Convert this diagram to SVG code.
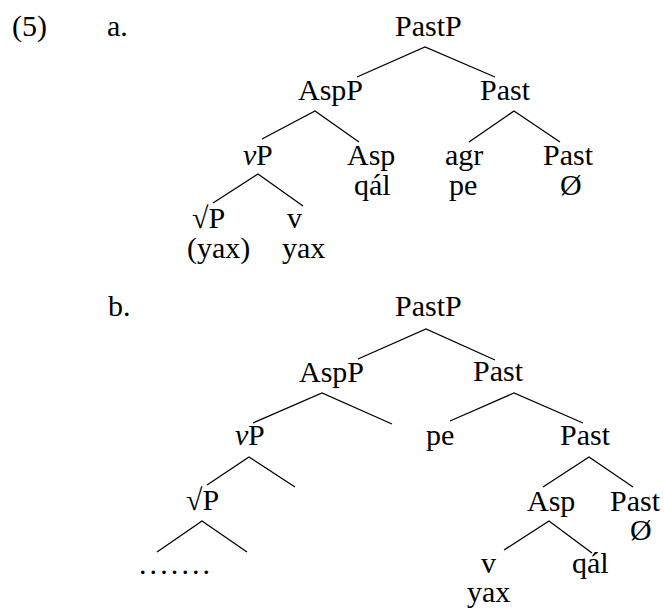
<svg xmlns="http://www.w3.org/2000/svg" width="664" height="615" viewBox="0 0 664 615" font-family="Liberation Serif, Times New Roman, serif" font-size="30">
<style>
text{font-family:'Liberation Serif','Times New Roman',serif;font-size:30px;fill:#000}
.i{font-style:italic}
.dots{letter-spacing:3.1px}
.e{stroke:#000;stroke-width:1.3;fill:none}
</style>
<rect width="664" height="615" fill="#fff"/>
<g id="labels">
<text x="12" y="36">(5)</text>
<text x="107" y="36">a.</text>
<text x="108" y="316">b.</text>
</g>
<g id="edges">
<polyline class="e" points="357,77 425,47 495,77"/>
<polyline class="e" points="262,139 315,111 359,142"/>
<polyline class="e" points="469,142 514,111 560,142"/>
<polyline class="e" points="213,203 258,174 303,206"/>
<polyline class="e" points="358,359 426,329 495,360"/>
<polyline class="e" points="253,423 322,393 392,424"/>
<polyline class="e" points="450,421 514,393 583,423"/>
<polyline class="e" points="207,485 249,457 295,487"/>
<polyline class="e" points="543,487 589,457 633,487"/>
<polyline class="e" points="157,552 202,521 247,552"/>
<polyline class="e" points="504,550 549,521 592,553"/>
</g>
<g id="a-PastP"><text x="395" y="36">PastP</text></g>
<g id="a-AspP"><text x="298" y="100">AspP</text></g>
<g id="a-Past"><text x="480" y="100">Past</text></g>
<g id="a-vP"><text class="i" x="243" y="165">v</text><text x="256" y="165">P</text></g>
<g id="a-Asp"><text x="347" y="165">Asp</text><text x="354" y="195">qál</text></g>
<g id="a-agr"><text x="445" y="165">agr</text><text x="449" y="195">pe</text></g>
<g id="a-Past2"><text x="543" y="165">Past</text><text x="560" y="195">Ø</text></g>
<g id="a-rootP"><text x="192" y="228">√P</text><text x="187" y="258">(yax)</text></g>
<g id="a-v"><text x="287" y="228">v</text><text x="282" y="258">yax</text></g>
<g id="b-PastP"><text x="395" y="316">PastP</text></g>
<g id="b-AspP"><text x="299" y="382">AspP</text></g>
<g id="b-Past"><text x="473" y="381">Past</text></g>
<g id="b-vP"><text class="i" x="235" y="445">v</text><text x="248" y="445">P</text></g>
<g id="b-pe"><text x="426" y="445">pe</text></g>
<g id="b-Past2"><text x="560" y="445">Past</text></g>
<g id="b-rootP"><text x="186" y="510">√P</text></g>
<g id="b-dots"><text class="dots" x="139" y="574">.......</text></g>
<g id="b-Asp"><text x="527" y="511">Asp</text></g>
<g id="b-Past3"><text x="610" y="511">Past</text><text x="630" y="540">Ø</text></g>
<g id="b-v"><text x="481" y="573">v</text><text x="467" y="602">yax</text></g>
<g id="b-qal"><text x="572" y="573">qál</text></g>
</svg>
